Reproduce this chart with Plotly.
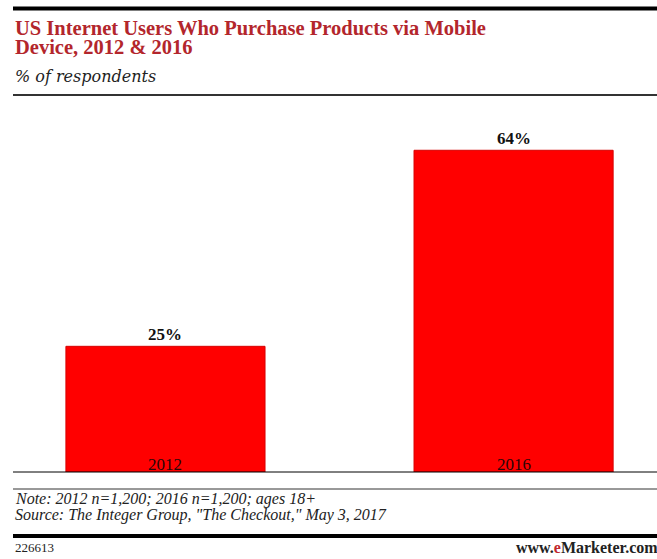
import plotly.graph_objects as go

# Data
categories = ["2012", "2016"]
values = [25, 64]
value_labels = ["25%", "64%"]

title_lines = ["US Internet Users Who Purchase Products via Mobile", "Device, 2012 & 2016"]
subtitle = "% of respondents"
note_lines = ["Note: 2012 n=1,200; 2016 n=1,200; ages 18+",
              "Source: The Integer Group, \"The Checkout,\" May 3, 2017"]
chart_id = "226613"

W, H = 657, 559
PLOT_L, PLOT_R, PLOT_T, PLOT_B = 13, 657, 100, 472


def py(ypx):
    """Pixel row -> paper y."""
    return (PLOT_B - ypx) / (PLOT_B - PLOT_T)


def px(xpx):
    """Pixel column -> paper x."""
    return (xpx - PLOT_L) / (PLOT_R - PLOT_L)


SERIF = "Liberation Serif, Times New Roman, serif"

fig = go.Figure()
fig.add_trace(go.Bar(
    x=list(range(len(categories))), y=values,
    marker=dict(color="#ff0000", line=dict(color="#d80000", width=1)),
    width=0.572, hoverinfo="skip",
))

annotations = []
# value labels above bars, category labels inside the bar bottoms
for i, (c, v, t) in enumerate(zip(categories, values, value_labels)):
    annotations.append(dict(x=i, y=v, xref="x", yref="y", text=f"<b>{t}</b>",
                            showarrow=False, yanchor="bottom", yshift=0,
                            font=dict(family=SERIF, size=17, color="#111111")))
    annotations.append(dict(x=i, y=0, xref="x", yref="y", text=c,
                            showarrow=False, yanchor="middle", yshift=8,
                            font=dict(family=SERIF, size=17, color="#2a0606")))
# title block
for i, line in enumerate(title_lines):
    annotations.append(dict(x=px(13), y=py(28 + 19 * i), xref="paper", yref="paper",
                            text=f"<b>{line}</b>", showarrow=False,
                            xanchor="left", yanchor="middle",
                            font=dict(family=SERIF, size=20.5, color="#b3262c")))
annotations.append(dict(x=px(13), y=py(76), xref="paper", yref="paper",
                        text=f"<i>{subtitle}</i>", showarrow=False,
                        xanchor="left", yanchor="middle",
                        font=dict(family="DejaVu Serif, serif", size=16, color="#222222")))
# notes
for i, line in enumerate(note_lines):
    annotations.append(dict(x=px(13), y=py(499 + 16 * i), xref="paper", yref="paper",
                            text=f"<i>{line}</i>", showarrow=False,
                            xanchor="left", yanchor="middle",
                            font=dict(family=SERIF, size=16, color="#222222")))
annotations.append(dict(x=px(13), y=py(547), xref="paper", yref="paper",
                        text=chart_id, showarrow=False, xanchor="left", yanchor="middle",
                        font=dict(family=SERIF, size=13, color="#222222")))
annotations.append(dict(x=px(660), y=py(547), xref="paper", yref="paper",
                        text="<b>www.<span style='color:#c0282d'>e</span>Marketer.com</b>",
                        showarrow=False, xanchor="right", yanchor="middle",
                        font=dict(family=SERIF, size=16, color="#222222")))

shapes = []
for ypx, w, col in [(8.5, 4, "#000000"), (95, 2, "#333333"), (472, 1, "#000000"),
                    (489, 1, "#333333"), (536, 4, "#000000")]:
    shapes.append(dict(type="line", xref="paper", yref="paper",
                       x0=px(13), x1=px(657), y0=py(ypx), y1=py(ypx),
                       line=dict(color=col, width=w)))

fig.update_layout(
    width=W, height=H,
    margin=dict(l=PLOT_L, r=W - PLOT_R, t=PLOT_T, b=H - PLOT_B),
    paper_bgcolor="white", plot_bgcolor="white",
    showlegend=False,
    xaxis=dict(range=[-0.438, 1.412], showticklabels=False,
               showgrid=False, zeroline=False, showline=False, ticks=""),
    yaxis=dict(range=[0, 74], showticklabels=False, showgrid=False,
               zeroline=False, showline=False, ticks=""),
    annotations=annotations,
    shapes=shapes,
)

fig.write_html("out.html")
